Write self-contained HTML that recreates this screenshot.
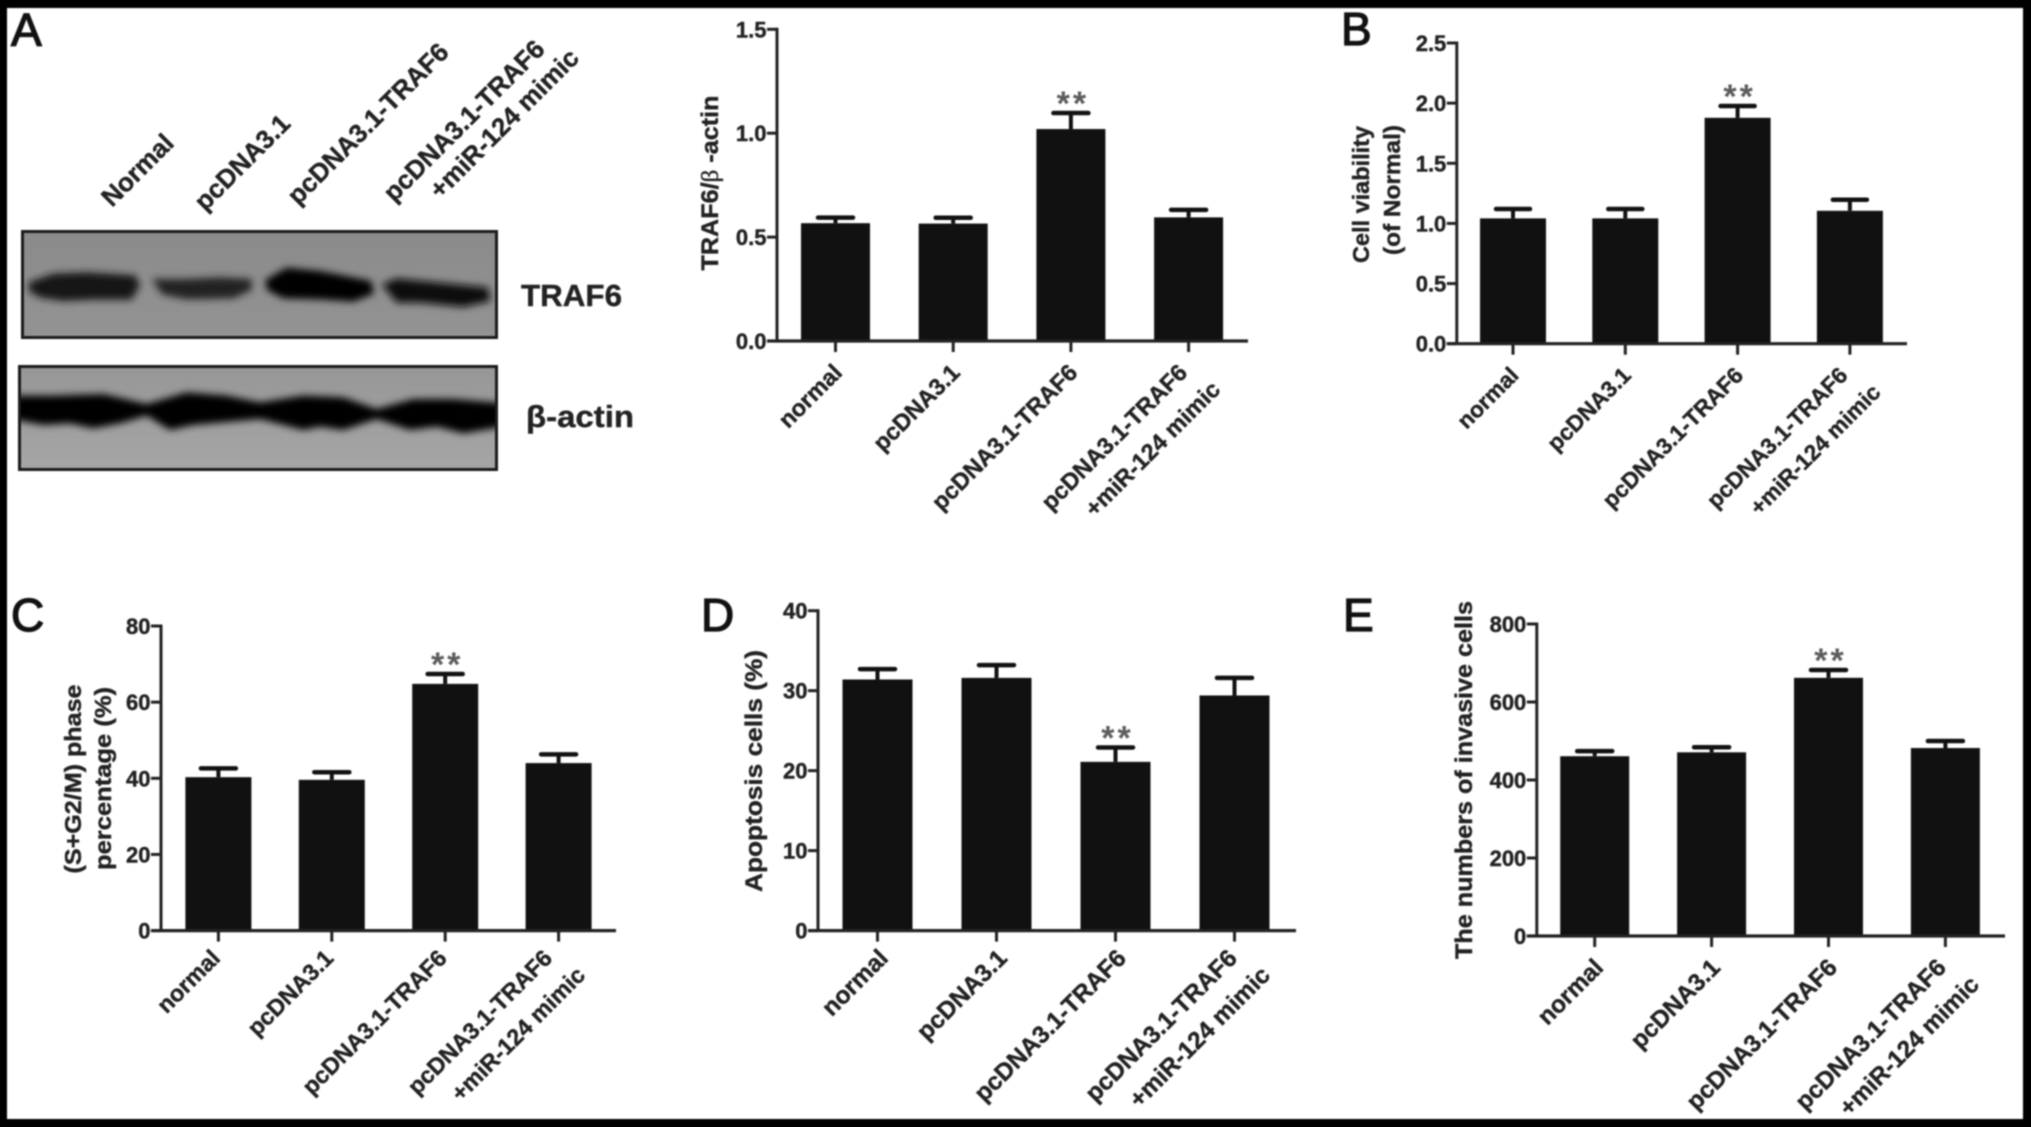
<!DOCTYPE html>
<html lang="en">
<head>
<meta charset="utf-8">
<title>TRAF6 figure panels</title>
<style>
html,body{margin:0;padding:0;background:#000;width:2031px;height:1127px;overflow:hidden}
svg{display:block;filter:blur(0.8px)}
text{font-family:"Liberation Sans",sans-serif;fill:#222;stroke:#222;stroke-width:.4px}
.bold{font-weight:bold}
.letter{stroke-width:1.3px;fill:#111;stroke:#111}
</style>
</head>
<body>
<svg id="figure" xmlns="http://www.w3.org/2000/svg" width="2031" height="1127" viewBox="0 0 2031 1127">
  <defs>
    <filter id="soft" x="-20%" y="-60%" width="140%" height="220%"><feGaussianBlur stdDeviation="11"/></filter>
    <linearGradient id="blot1" x1="0" y1="0" x2="0" y2="1"><stop offset="0" stop-color="#8a8a8a"/><stop offset="1" stop-color="#939393"/></linearGradient>
    <linearGradient id="blot2" x1="0" y1="0" x2="0" y2="1"><stop offset="0" stop-color="#969696"/><stop offset="1" stop-color="#a6a6a6"/></linearGradient>
    <clipPath id="clip1"><rect x="22" y="231" width="476" height="108"/></clipPath>
    <clipPath id="clip2"><rect x="18" y="365" width="480" height="106"/></clipPath>
  </defs>
  <rect x="7" y="8" width="2016" height="1111" fill="#fff"/>

  <text class="letter" x="11" y="46" font-size="46">A</text>
  <text class="letter" x="1341" y="45" font-size="46">B</text>
  <text class="letter" x="11" y="631" font-size="46">C</text>
  <text class="letter" x="701" y="631" font-size="46">D</text>
  <text class="letter" x="1343" y="631" font-size="46">E</text>

  <g class="bold" font-size="26">
    <text transform="translate(112 208) rotate(-45)">Normal</text>
    <text transform="translate(205 212) rotate(-45)">pcDNA3.1</text>
    <text transform="translate(298 206) rotate(-45)">pcDNA3.1-TRAF6</text>
    <text transform="translate(394 203) rotate(-45)">pcDNA3.1-TRAF6</text>
    <text transform="translate(440 200) rotate(-45)">+miR-124 mimic</text>
  </g>

  <g>
    <rect x="21" y="230" width="477" height="109" fill="url(#blot1)"/>
    <g clip-path="url(#clip1)">
      <g transform="translate(20 225) scale(0.3333)" filter="url(#soft)">
        <polygon fill="#161616" points="26,172 100,146 200,142 345,151 360,180 335,224 220,224 130,228 60,218 26,198"/>
        <polygon fill="#242424" points="396,162 500,162 600,157 695,162 695,195 640,220 500,223 426,208"/>
        <polygon fill="#000" points="736,165 800,128 900,138 1054,168 1062,206 1000,230 900,223 790,220 741,195"/>
        <polygon fill="#0e0e0e" points="1086,178 1130,160 1250,172 1404,187 1412,228 1330,246 1200,233 1130,233"/>
      </g>
    </g>
    <rect x="22.5" y="231.5" width="474" height="106" fill="none" stroke="#1a1a1a" stroke-width="3"/>
  </g>
  <text class="bold" x="521" y="306" font-size="31" textLength="101" lengthAdjust="spacingAndGlyphs">TRAF6</text>

  <g>
    <rect x="18" y="365" width="480" height="106" fill="url(#blot2)"/>
    <g clip-path="url(#clip2)">
      <g transform="translate(20 225) scale(0.3333)" filter="url(#soft)">
        <polygon fill="#050505" points="-40,512 100,512 250,507 380,537 500,502 620,512 720,532 850,512 970,517 1070,552 1180,522 1300,522 1480,537 1480,600 1330,625 1250,605 1170,615 1070,582 970,615 900,605 850,615 720,582 520,600 450,615 380,572 300,595 220,610 150,595 70,600 -40,580"/>
      </g>
    </g>
    <rect x="19.5" y="366.5" width="477" height="103" fill="none" stroke="#1a1a1a" stroke-width="3"/>
  </g>
  <text class="bold" x="526" y="427" font-size="31" textLength="108" lengthAdjust="spacingAndGlyphs">β-actin</text>

  <g id="charts"></g>
</svg>
<script>
// ---- chart data ----
const categories = ['normal', 'pcDNA3.1', 'pcDNA3.1-TRAF6', 'pcDNA3.1-TRAF6|+miR-124 mimic'];

const traf6Values = [0.567, 0.565, 1.02, 0.595];
const traf6Errors = [0.027, 0.028, 0.077, 0.036];
const traf6Ticks = ['0.0', '0.5', '1.0', '1.5'];

const viabilityValues = [1.042, 1.042, 1.878, 1.105];
const viabilityErrors = [0.078, 0.078, 0.098, 0.092];
const viabilityTicks = ['0.0', '0.5', '1.0', '1.5', '2.0', '2.5'];

const phaseValues = [40.3, 39.6, 64.8, 44.0];
const phaseErrors = [2.3, 2.0, 2.6, 2.3];
const phaseTicks = ['0', '20', '40', '60', '80'];

const apoptosisValues = [31.4, 31.6, 21.1, 29.4];
const apoptosisErrors = [1.3, 1.6, 1.8, 2.2];
const apoptosisTicks = ['0', '10', '20', '30', '40'];

const invasiveValues = [461, 471, 662, 482];
const invasiveErrors = [13, 13, 20, 18];
const invasiveTicks = ['0', '200', '400', '600', '800'];

// ---- layout (no data here) ----
const panels = [
  { id: 'traf6', values: traf6Values, errors: traf6Errors, ticks: traf6Ticks, sig: 2,
    axisX: 777, top: 29.3, base: 341, right: 1248, first: 835.5, step: 117.7, barW: 69, capW: 35, font: 23.5, labelDx: 1, labelDy: -4,
    titles: [{ x: 718, y: 183, len: 175 }], titleFont: 24 },
  { id: 'viability', values: viabilityValues, errors: viabilityErrors, ticks: viabilityTicks, sig: 2,
    axisX: 1456.8, top: 43, base: 343.7, right: 1907, first: 1513, step: 112.3, barW: 66, capW: 34, font: 22.7, labelDx: 0, labelDy: -4,
    titles: [{ text: 'Cell viability', x: 1369, y: 194.5, len: 137 }, { text: '(of Normal)', x: 1400, y: 190, len: 130 }], titleFont: 23 },
  { id: 'phase', values: phaseValues, errors: phaseErrors, ticks: phaseTicks, sig: 2,
    axisX: 161, top: 626, base: 930.6, right: 616, first: 218.4, step: 113.4, barW: 66, capW: 35, font: 23.3, labelDx: -4, labelDy: -8,
    titles: [{ text: '(S+G2/M) phase', x: 81, y: 779, len: 189 }, { text: 'percentage (%)', x: 111, y: 778.5, len: 183 }], titleFont: 23 },
  { id: 'apoptosis', values: apoptosisValues, errors: apoptosisErrors, ticks: apoptosisTicks, sig: 2,
    axisX: 818, top: 610.7, base: 930.6, right: 1296, first: 877.5, step: 119, barW: 70, capW: 35, font: 24.5, labelDx: 5, labelDy: -8,
    titles: [{ text: 'Apoptosis cells (%)', x: 762, y: 771, len: 242 }], titleFont: 24 },
  { id: 'invasive', values: invasiveValues, errors: invasiveErrors, ticks: invasiveTicks, sig: 2,
    axisX: 1536.8, top: 624, base: 936, right: 2005, first: 1594.7, step: 116.9, barW: 69, capW: 35, font: 24.3, labelDx: 3, labelDy: -4,
    titles: [{ text: 'The numbers of invasive cells', x: 1472, y: 780, len: 358 }], titleFont: 24 }
];

const SVG_NS = 'http://www.w3.org/2000/svg';
const root = document.getElementById('charts');
const INK = '#222';
const BAR = '#111';

function make(parent, tag, attrs, content) {
  const el = document.createElementNS(SVG_NS, tag);
  for (const k in attrs) el.setAttribute(k, attrs[k]);
  if (content !== undefined) el.textContent = content;
  parent.appendChild(el);
  return el;
}

panels.forEach(function (p) {
  const tickMax = parseFloat(p.ticks[p.ticks.length - 1]);
  const yScale = function (v) { return p.base - (v / tickMax) * (p.base - p.top); };
  const xScale = function (i) { return p.first + i * p.step; };

  const g = make(root, 'g', {});
  
  

  // bars + error bars
  p.values.forEach(function (v, i) {
    const cx = xScale(i);
    const capY = yScale(v + p.errors[i]);
    const stem = make(g, 'line', { x1: cx, x2: cx, y1: capY, y2: yScale(v), stroke: BAR, 'stroke-width': 4 });
    
    
    const cap = make(g, 'line', { x1: cx - p.capW / 2, x2: cx + p.capW / 2, y1: capY, y2: capY, stroke: BAR, 'stroke-width': 4.5, 'stroke-linecap': 'round' });
    
    
    const bar = make(g, 'rect', { x: cx - p.barW / 2, y: yScale(v), width: p.barW, height: p.base - yScale(v), fill: BAR });
    
    
    if (i === p.sig) {
      const stars = make(g, 'text', { x: cx + 2, y: capY + 2, 'text-anchor': 'middle', 'font-size': 34, 'font-weight': 'bold', 'letter-spacing': 3 }, '**');
      stars.style.fill = '#5c5c5c';
      stars.style.stroke = 'none';
      
      
    }
  });

  // axes
  const yAxis = make(g, 'line', { x1: p.axisX, x2: p.axisX, y1: p.top - 1.5, y2: p.base, stroke: INK, 'stroke-width': 3 });
  
  
  const xAxis = make(g, 'line', { x1: p.axisX - 10, x2: p.right, y1: p.base, y2: p.base, stroke: INK, 'stroke-width': 3.2 });
  
  

  // y ticks
  p.ticks.forEach(function (t) {
    const y = yScale(parseFloat(t));
    const tick = make(g, 'line', { x1: p.axisX - 10, x2: p.axisX, y1: y, y2: y, stroke: INK, 'stroke-width': 3 });
    
    
    const label = make(g, 'text', { x: p.axisX - 10.5, y: y + 8, 'text-anchor': 'end', 'font-size': 22, 'font-weight': 'bold' }, t);
    
    
  });

  // x ticks + rotated labels
  categories.forEach(function (c, i) {
    const cx = xScale(i);
    const tick = make(g, 'line', { x1: cx, x2: cx, y1: p.base, y2: p.base + 11, stroke: INK, 'stroke-width': 3 });
    
    
    const lines = c.split('|');
    lines.forEach(function (line, k) {
      let dx = 7, dy = 37;
      if (lines.length === 2) {
        dx = k === 0 ? -1 : 32;
        dy = k === 0 ? 37 : 54;
      }
      const label = make(g, 'text', {
        transform: 'translate(' + (cx + dx + p.labelDx) + ' ' + (p.base + dy + p.labelDy) + ') rotate(-45)',
        'text-anchor': 'end', 'font-size': p.font, 'font-weight': 'bold'
      }, line);
      
      
    });
  });

  // y-axis titles
  p.titles.forEach(function (t, k) {
    const title = make(g, 'text', {
      transform: 'translate(' + t.x + ' ' + t.y + ') rotate(-90)',
      'text-anchor': 'middle', 'font-size': p.titleFont, 'font-weight': 'bold',
      textLength: t.len, lengthAdjust: 'spacingAndGlyphs'
    }, t.text || 'TRAF6/');
    if (!t.text) {
      const beta = make(title, 'tspan', { 'font-family': '"Liberation Serif", serif', 'font-weight': 'normal' }, 'β');
      
      
      make(title, 'tspan', {}, ' -actin');
    }
    
    
  });
});
</script>
</body>
</html>
